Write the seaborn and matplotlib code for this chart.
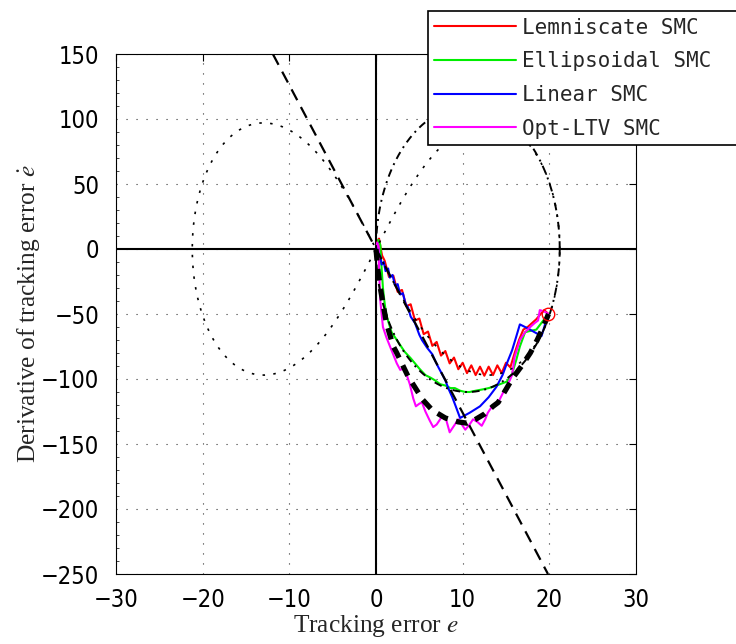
import numpy as np
import pandas as pd
import matplotlib
matplotlib.use("Agg")
import matplotlib.pyplot as plt
import seaborn as sns
from matplotlib import font_manager
from matplotlib.font_manager import FontProperties
from matplotlib.lines import Line2D

# ---------------- data ----------------
CONTROLLERS = ["Lemniscate SMC", "Ellipsoidal SMC", "Linear SMC", "Opt-LTV SMC"]
COLORS = ["#ff0000", "#00ee00", "#0000ff", "#ff00ff"]

lem_e = [0.0, 0.2, 0.35, 0.5, 0.7, 1.0, 1.5, 2.0, 2.5, 3.0, 3.5, 4.0, 4.5, 5.0, 5.5,
         6.0, 6.5, 7.0, 7.5, 8.0, 8.5, 9.0, 9.5, 10.0, 10.5, 11.0, 11.5, 12.0, 12.5,
         13.0, 13.5, 14.0, 14.5, 15.0, 15.5, 16.0, 16.5, 17.0, 17.5, 18.0, 18.5, 19.0,
         19.4, 19.9]
lem_de = [0, 6, 8, 2, -5, -9, -21.5, -20.5, -33, -31.5, -44, -42.5, -55, -53.5, -65.5,
          -63.5, -74.5, -71.5, -82, -78.5, -88, -83.5, -92.5, -87.5, -95.5, -89.5, -97, -90.5, -97.5,
          -90.5, -97, -89.5, -95.5, -87.5, -91, -80, -70, -62, -60, -57, -54, -50,
          -47, -50]

ell_e = [0.0, 0.3, 0.5, 0.6, 0.8, 1.0, 1.2, 1.8, 2.6, 3.3, 4.0, 4.5, 5.0, 5.7, 6.3,
         6.8, 7.4, 8.0, 8.6, 9.1, 9.7, 10.3, 10.8, 11.5, 12.3, 13.0, 13.5, 14.3, 15.1,
         15.7, 16.2, 16.6, 17.2, 17.8, 18.5, 19.3, 19.9]
ell_de = [0, 7, 3, -10, -30, -42, -51, -64, -72, -79, -84, -88, -92, -97, -99,
          -101, -104, -105, -107, -107, -109, -110, -110, -109, -108, -107, -106, -104, -102,
          -96, -85, -75, -64, -63, -62, -55, -50]

lin_e = [0.0, 0.2, 0.3, 0.5, 0.65, 0.9, 1.1, 1.4, 1.6, 1.9, 2.2, 2.5, 2.8, 3.1, 3.4,
         3.7, 4.0, 4.5, 5.0, 5.3, 5.9, 6.5, 6.9, 7.2, 7.6, 8.0, 8.4, 8.8, 9.2, 9.7,
         10.8, 12.0, 13.0, 13.9, 14.6, 15.1, 15.7, 16.2, 16.6, 17.5, 18.3, 19.1, 19.5, 19.9]
lin_de = [0, 4, -3, -6, -12, -10, -17, -15, -22, -20, -28, -27, -35, -34, -42,
          -45, -52, -57, -66, -70, -76, -81, -87, -91, -96, -101, -108, -114, -121, -130,
          -126, -121, -114, -106, -97, -88, -78, -67, -58, -61, -64, -67, -58, -50]

opt_e = [0.0, 0.15, 0.3, 0.35, 0.5, 0.8, 1.2, 1.8, 2.4, 2.8, 3.1, 3.5, 3.9, 4.3, 4.6,
         5.0, 5.3, 5.7, 6.2, 6.6, 7.0, 7.5, 8.0, 8.5, 9.0, 9.5, 9.9, 10.3, 10.8, 11.2,
         11.7, 12.2, 12.6, 12.9, 13.5, 14.1, 14.7, 15.1, 15.7, 16.0, 16.6, 17.2, 17.8,
         18.3, 18.7, 18.9, 19.4, 19.9]
opt_de = [0, 5, 2, -15, -40, -60, -68, -78, -88, -93, -92, -96, -104, -115, -121,
          -119, -118, -125, -132, -137, -135, -130, -129, -141, -136, -131, -135, -139, -135, -131,
          -133, -136, -131, -126, -120, -118, -110, -106, -97, -83, -70, -64, -60,
          -57, -55, -47, -48, -50]

# Opt-LTV sliding surface (thick dashed)
surf_e = [0.0, 0.2, 0.5, 1.2, 2.0, 2.4, 3.7, 5.4, 6.5, 8.0, 9.5, 10.5, 11.5, 12.5,
          13.5, 14.1, 15.0, 15.8, 16.8, 17.8, 18.6, 19.3, 19.9]
surf_de = [0, -15, -30, -57, -75, -80, -98, -116, -124, -130, -133, -134, -131, -127,
           -121, -118, -108, -99, -90, -80, -70, -60, -50]

START_POINT = (19.9, -50)

# geometric sliding surfaces
LEMN_HALF_WIDTH = 21.2   # lemniscate extends to +-21.2 in e
LEMN_PEAK = 97.0         # max |de| of the lemniscate lobes
ELL_CENTER = 10.6
ELL_SEMI_E = 10.6
ELL_SEMI_DE = 110.0
LINEAR_SLOPE = -12.6

XTICKS = [-30, -20, -10, 0, 10, 20, 30]
YTICKS = [-250, -200, -150, -100, -50, 0, 50, 100, 150]

# ---------------- styling ----------------
sns.set_style("white")
plt.rcParams["mathtext.fontset"] = "stix"

names = {f.name for f in font_manager.fontManager.ttflist}
if "Liberation Sans Narrow" in names:
    tick_fp = FontProperties(family="Liberation Sans Narrow", size=19)
else:
    tick_fp = FontProperties(family="DejaVu Sans", stretch="condensed", size=17)
label_fp = FontProperties(family=["Liberation Serif", "DejaVu Serif"], size=18.3)
legend_fp = FontProperties(family="DejaVu Sans Mono", size=15)

W, H = 736, 644
fig = plt.figure(figsize=(W / 100, H / 100), dpi=100)
ax = fig.add_axes([116 / W, 1 - 574 / H, 520 / W, 520 / H])

ax.set_xlim(-30, 30)
ax.set_ylim(-250, 150)
ax.set_xticks(XTICKS)
ax.set_yticks(YTICKS)
ax.set_yticks(np.arange(-250, 151, 10), minor=True)
ax.grid(True, which="major", linestyle=(0, (1, 8)), color="#333333", lw=0.8)
ax.set_axisbelow(True)

for s in ax.spines.values():
    s.set_visible(True)
    s.set_color("black")
    s.set_linewidth(0.8)

ax.tick_params(which="major", direction="in", length=5, width=0.8, top=True, right=True,
               colors="black")
ax.tick_params(axis="y", which="minor", direction="in", length=2.5, width=0.6, left=True,
               right=False)
ax.tick_params(axis="x", pad=10)
ax.tick_params(axis="y", pad=12)
for lab in ax.get_xticklabels() + ax.get_yticklabels():
    lab.set_fontproperties(tick_fp)

# axes through origin
ax.axhline(0, color="black", lw=1.5, zorder=1.5)
ax.axvline(0, color="black", lw=1.5, zorder=1.5)

# trajectories
frames = []
for name, e, de in zip(CONTROLLERS, [lem_e, ell_e, lin_e, opt_e], [lem_de, ell_de, lin_de, opt_de]):
    frames.append(pd.DataFrame({"e": e, "de": de, "controller": name}))
df = pd.concat(frames, ignore_index=True)
sns.lineplot(data=df, x="e", y="de", hue="controller", hue_order=CONTROLLERS,
             palette=COLORS, sort=False, estimator=None, lw=1.5, legend=False, ax=ax,
             zorder=3)

# sliding surfaces
t = np.linspace(0, 2 * np.pi, 600)
k = LEMN_PEAK / (1 / (2 * np.sqrt(2)))
lx = LEMN_HALF_WIDTH * np.cos(t) / (1 + np.sin(t) ** 2)
ly = k * np.sin(t) * np.cos(t) / (1 + np.sin(t) ** 2)
ax.plot(lx, ly, color="black", lw=1.2, linestyle=(0, (1.5, 5)), zorder=4)

ex = ELL_CENTER + ELL_SEMI_E * np.cos(t)
ey = ELL_SEMI_DE * np.sin(t)
ax.plot(ex, ey, color="black", lw=1.4, linestyle=(0, (4, 2.5, 1, 2.5)), zorder=4)

ax.axline((0, 0), slope=LINEAR_SLOPE, color="black", lw=1.6, linestyle=(0, (5.5, 3.5)), zorder=4)

ax.plot(surf_e, surf_de, color="black", lw=3.8, linestyle=(0, (2.2, 1.6)), zorder=4)

ax.plot([START_POINT[0]], [START_POINT[1]], marker="o", ms=9, mfc="none", mec="red",
        mew=1.0, linestyle="none", zorder=5)

ax.set_xlabel("Tracking error $e$", fontproperties=label_fp, labelpad=1)
ax.set_ylabel("Derivative of tracking error $\\dot{e}$", fontproperties=label_fp, labelpad=-1)

handles = [Line2D([], [], color=c, lw=1.5) for c in COLORS]
leg = fig.legend(handles, CONTROLLERS, loc="lower left",
                 bbox_to_anchor=(428 / W, 1 - 145 / H, 0.5, 0.3), mode="expand",
                 prop=legend_fp, frameon=True, fancybox=False, edgecolor="black",
                 framealpha=1.0, borderpad=0.3, handlelength=3.9, handletextpad=0.3,
                 labelspacing=0.66, borderaxespad=0)
leg.get_frame().set_linewidth(1.2)

fig.savefig("out.png", dpi=100)
